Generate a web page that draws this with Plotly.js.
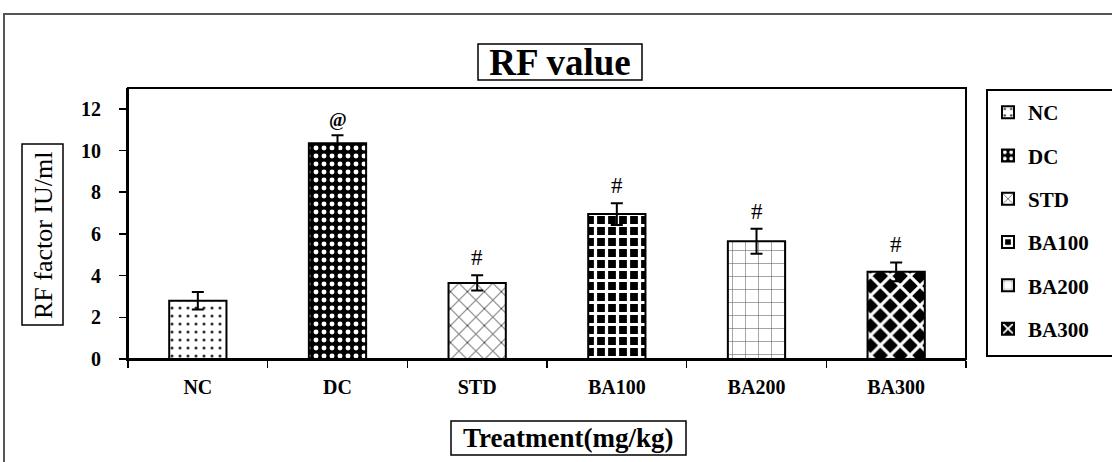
<!DOCTYPE html>
<html>
<head>
<meta charset="utf-8">
<script src="https://cdn.plot.ly/plotly-3.0.1.min.js"></script>
<style>html,body{margin:0;padding:0;background:#fff;}#chart{width:1112px;height:462px;}</style>
</head>
<body>
<div id="chart"></div>
<script>
// ---- data ----
const categories = ['NC', 'DC', 'STD', 'BA100', 'BA200', 'BA300'];
const rfMeans = [2.8, 10.35, 3.65, 6.95, 5.65, 4.18];
const rfErrors = [0.42, 0.38, 0.37, 0.52, 0.6, 0.45];
const sigMarks = ['', '@', '#', '#', '#', '#'];
const yTicks = [0, 2, 4, 6, 8, 10, 12];
const chartTitle = 'RF value';
const xTitle = 'Treatment(mg/kg)';
const yTitle = 'RF factor IU/ml';

// ---- styles (per category) ----
const patterns = [
  {shape: '.', fgcolor: '#333', bgcolor: 'white', size: 8, solidity: 0.12},
  {shape: '.', fgcolor: 'white', bgcolor: 'black', size: 8, solidity: 0.3},
  {shape: 'x', fgcolor: 'black', bgcolor: 'white', size: 12, solidity: 0.12},
  {shape: '+', fgcolor: 'white', bgcolor: 'black', size: 11, solidity: 0.5},
  {shape: '+', fgcolor: '#555', bgcolor: 'white', size: 13, solidity: 0.08},
  {shape: 'x', fgcolor: 'white', bgcolor: 'black', size: 14, solidity: 0.4}
];

const FONT = 'Liberation Serif, Times New Roman, serif';

const traces = categories.map((c, i) => ({
  type: 'bar',
  name: c,
  x: [c],
  y: [rfMeans[i]],
  width: 0.41,
  legendgroup: 'g' + i,
  marker: {
    color: patterns[i].bgcolor,
    pattern: Object.assign({fillmode: 'replace'}, patterns[i]),
    line: {color: 'black', width: 2}
  },
  error_y: {type: 'data', array: [rfErrors[i]], visible: true, color: 'black', thickness: 2, width: 6},
  hoverinfo: 'x+y'
}));

// plot area in pixels: x 128..966, y 88..359
const L = 128, R = 966, T = 88, B = 359;
const px = x => (x - L) / (R - L);
const py = y => (B - y) / (B - T);

const annotations = categories.map((c, i) => ({
  x: c, y: rfMeans[i] + rfErrors[i], xref: 'x', yref: 'y',
  text: sigMarks[i], showarrow: false, yanchor: 'bottom', yshift: 3,
  font: {family: FONT, size: sigMarks[i] === '@' ? 19 : 23, color: 'black', weight: sigMarks[i] === '@' ? 'bold' : 'normal'}
})).filter(a => a.text !== '');

annotations.push({
  x: px(43), y: py(235), xref: 'paper', yref: 'paper', text: yTitle, textangle: -90,
  showarrow: false, xanchor: 'center', yanchor: 'middle',
  font: {family: FONT, size: 26, color: 'black'}
});
annotations.push({
  x: px(568), y: py(438), xref: 'paper', yref: 'paper', text: xTitle,
  showarrow: false, xanchor: 'center', yanchor: 'middle',
  font: {family: FONT, size: 27, color: 'black', weight: 'bold'}
});

const shapes = [
  // outer frame
  {type: 'rect', xref: 'paper', yref: 'paper', x0: px(4), x1: px(1140), y0: py(490), y1: py(14),
   line: {color: '#555', width: 2}, layer: 'below'},
  // plot area frame
  {type: 'rect', xref: 'paper', yref: 'paper', x0: 0, x1: 1, y0: 0, y1: 1,
   line: {color: 'black', width: 2}},
  // title box
  {type: 'rect', xref: 'paper', yref: 'paper', x0: px(478), x1: px(642), y0: py(80), y1: py(44),
   line: {color: 'black', width: 1.5}},
  // y title box
  {type: 'rect', xref: 'paper', yref: 'paper', x0: px(22), x1: px(63), y0: py(325), y1: py(144),
   line: {color: 'black', width: 1.5}},
  // x title box
  {type: 'rect', xref: 'paper', yref: 'paper', x0: px(451), x1: px(686), y0: py(455), y1: py(421),
   line: {color: 'black', width: 1.5}},
  // legend box
  {type: 'rect', xref: 'paper', yref: 'paper', x0: px(987), x1: px(1140), y0: py(356), y1: py(90),
   line: {color: 'black', width: 2}}
];

const layout = {
  width: 1112, height: 462,
  margin: {l: L, r: 1112 - R, t: T, b: 462 - B, pad: 0},
  paper_bgcolor: 'white', plot_bgcolor: 'white',
  barmode: 'overlay',
  showlegend: true,
  title: {text: chartTitle, x: px(560), xref: 'paper', xanchor: 'center',
          y: 1 - 62 / 462, yref: 'container', yanchor: 'middle',
          font: {family: FONT, size: 37, color: 'black', weight: 'bold'}},
  xaxis: {
    type: 'category', categoryorder: 'array', categoryarray: categories,
    showline: true, linecolor: 'black', linewidth: 2,
    ticks: 'outside', tickson: 'boundaries', ticklen: 7, tickwidth: 1.5, tickcolor: 'black',
    ticklabelstandoff: 9,
    tickfont: {family: FONT, size: 20, color: 'black', weight: 'bold'},
    showgrid: false, zeroline: false, fixedrange: true
  },
  yaxis: {
    range: [0, 13], tickvals: yTicks, ticktext: yTicks.map(String),
    showline: true, linecolor: 'black', linewidth: 2,
    ticks: 'outside', ticklen: 7, tickwidth: 1.5, tickcolor: 'black',
    ticklabelstandoff: 14,
    tickfont: {family: FONT, size: 20, color: 'black', weight: 'bold'},
    showgrid: false, zeroline: false, fixedrange: true
  },
  legend: {
    x: px(988), xanchor: 'left', y: py(92), yanchor: 'top',
    traceorder: 'grouped', tracegroupgap: 13,
    bgcolor: 'rgba(0,0,0,0)', borderwidth: 0,
    font: {family: FONT, size: 21, color: 'black', weight: 'bold'}
  },
  annotations: annotations,
  shapes: shapes
};

Plotly.newPlot('chart', traces, layout, {displayModeBar: false, staticPlot: true});
</script>
</body>
</html>
